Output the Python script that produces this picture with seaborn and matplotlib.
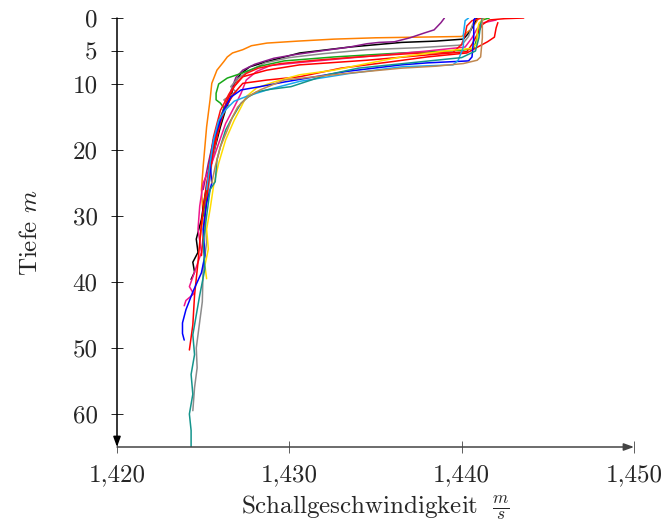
import matplotlib
matplotlib.use("Agg")
import matplotlib.pyplot as plt
import seaborn as sns
import pandas as pd

# ---------------- data ----------------
orange_s = [1441.0, 1440.8, 1440.5, 1440.0, 1437.5, 1435.0, 1432.6, 1430.5, 1428.7, 1427.8, 1427.3, 1426.7, 1426.4, 1426.2, 1425.8, 1425.5, 1425.4, 1425.2, 1425.1, 1425.0, 1424.9, 1425.0, 1424.8]
orange_d = [0.0, 0.8, 1.8, 2.8, 2.9, 3.0, 3.2, 3.5, 3.8, 4.2, 4.8, 5.3, 5.9, 6.6, 7.9, 9.9, 12.4, 16.5, 19.5, 22.5, 26.0, 30.0, 34.0]

black_s = [1440.9, 1440.7, 1440.5, 1440.1, 1438.5, 1436.5, 1433.5, 1430.6, 1428.7, 1427.7, 1427.2, 1426.8, 1426.6, 1426.3, 1426.0, 1425.7, 1425.4, 1425.1, 1424.9, 1424.6, 1424.7, 1424.4, 1424.5, 1424.3]
black_d = [0.0, 0.9, 2.0, 3.2, 3.5, 3.7, 4.4, 5.3, 6.6, 7.4, 8.4, 9.9, 12.0, 13.9, 16.5, 19.5, 23.0, 27.0, 30.5, 33.5, 35.5, 37.0, 38.5, 39.6]

purple_s = [1439.0, 1438.8, 1438.4, 1437.8, 1437.0, 1436.1, 1435.2, 1434.5, 1433.5, 1431.8, 1430.2, 1429.1, 1428.0, 1427.3, 1426.9, 1426.7, 1426.4, 1426.0, 1425.6, 1425.3, 1425.0]
purple_d = [0.0, 0.7, 1.8, 2.3, 3.0, 3.6, 3.7, 3.9, 4.4, 5.0, 5.6, 6.1, 7.0, 7.9, 9.0, 10.4, 12.5, 15.0, 18.5, 22.0, 26.0]

gray_s = [1440.8, 1440.6, 1440.4, 1440.0, 1437.5, 1434.5, 1432.0, 1430.0, 1428.6, 1427.6, 1427.0, 1426.6, 1426.9, 1426.2, 1426.5, 1426.0, 1425.8, 1425.5, 1425.3, 1425.1, 1425.2, 1425.0, 1424.95, 1424.8, 1424.7, 1424.6, 1424.65, 1424.5, 1424.4]
gray_d = [0.0, 1.2, 2.8, 4.1, 4.5, 4.8, 5.4, 6.0, 6.8, 8.1, 9.2, 10.4, 11.2, 12.4, 13.2, 15.0, 18.0, 22.0, 26.0, 30.0, 34.0, 38.0, 43.0, 46.0, 48.0, 50.0, 53.0, 56.0, 59.5]

green_s = [1441.6, 1441.2, 1441.0, 1440.9, 1440.7, 1440.0, 1436.5, 1432.6, 1429.7, 1428.3, 1427.2, 1426.4, 1425.9, 1425.75, 1425.75, 1426.0, 1426.2, 1426.0, 1425.7, 1425.4, 1425.2, 1425.0]
green_d = [0.0, 0.3, 1.2, 3.0, 4.6, 4.9, 5.3, 5.9, 6.5, 7.3, 8.4, 9.1, 10.0, 11.4, 12.4, 12.9, 13.6, 15.5, 18.5, 22.0, 26.0, 30.0]

magenta_s = [1442.0, 1441.3, 1440.9, 1440.6, 1440.2, 1438.0, 1435.5, 1433.3, 1430.8, 1428.9, 1428.1, 1427.5, 1427.2, 1426.8, 1426.3, 1425.9, 1425.5, 1425.0, 1424.8, 1424.7, 1424.9, 1424.5, 1424.2, 1424.45, 1424.0, 1423.9]
magenta_d = [0.3, 0.7, 1.6, 3.0, 4.4, 5.0, 5.6, 6.1, 6.7, 7.2, 8.1, 9.4, 11.4, 13.5, 16.0, 19.0, 22.0, 25.0, 28.5, 32.0, 35.5, 38.5, 40.7, 41.8, 42.8, 43.6]

red1_s = [1443.6, 1442.5, 1441.6, 1441.2, 1440.9, 1440.6, 1440.3, 1438.0, 1434.5, 1430.6, 1428.7, 1427.3, 1426.8, 1426.4, 1426.0, 1425.6, 1425.2, 1424.9, 1424.7, 1424.5, 1424.4, 1424.2]
red1_d = [0.0, 0.1, 0.3, 1.0, 2.5, 4.0, 5.1, 5.6, 6.4, 7.1, 7.9, 8.9, 10.4, 12.5, 15.5, 19.5, 25.0, 31.0, 37.0, 42.0, 46.5, 50.3]

red2_s = [1442.1, 1442.0, 1441.9, 1441.5, 1441.0, 1440.3, 1438.0, 1436.0, 1433.0, 1430.6, 1428.7, 1427.3, 1426.8, 1426.3, 1426.0, 1425.6, 1425.3, 1425.1, 1424.9]
red2_d = [0.7, 1.5, 2.9, 3.6, 4.3, 5.3, 5.9, 6.6, 7.6, 8.9, 9.4, 9.9, 11.4, 13.5, 16.0, 20.0, 25.0, 30.0, 36.0]

red3_s = [1441.2, 1440.6, 1440.3, 1440.2, 1440.0, 1439.5, 1437.0, 1434.0, 1431.5, 1429.5, 1428.2, 1427.5, 1427.0, 1426.5, 1426.0, 1425.6, 1425.3]
red3_d = [0.0, 0.4, 1.2, 2.5, 4.0, 5.2, 5.4, 5.9, 6.4, 6.9, 7.6, 8.4, 9.6, 11.5, 14.0, 18.0, 23.0]

yellow_s = [1441.3, 1441.0, 1440.9, 1440.9, 1440.6, 1439.0, 1436.5, 1434.5, 1432.6, 1430.6, 1429.1, 1428.1, 1427.5, 1427.2, 1426.8, 1426.3, 1425.9, 1425.6, 1425.4, 1425.2, 1425.3, 1425.1, 1425.2]
yellow_d = [0.0, 0.8, 2.0, 3.8, 4.6, 5.0, 5.9, 6.9, 7.9, 8.6, 9.7, 10.6, 11.9, 13.5, 15.5, 18.5, 22.0, 25.5, 29.0, 32.0, 35.0, 37.5, 39.5]

blue_s = [1440.8, 1440.7, 1440.7, 1440.6, 1440.4, 1438.0, 1436.5, 1433.3, 1429.7, 1428.3, 1427.2, 1426.6, 1426.2, 1426.0, 1425.6, 1425.4, 1425.5, 1425.2, 1425.0, 1425.1, 1424.9, 1424.4, 1424.0, 1423.8, 1423.8, 1423.9]
blue_d = [0.0, 0.3, 3.0, 5.9, 6.5, 6.8, 7.1, 8.1, 9.7, 10.4, 10.9, 12.0, 13.9, 15.5, 18.5, 22.0, 25.0, 28.0, 32.0, 36.0, 38.6, 41.5, 44.2, 46.2, 47.8, 48.8]

skyblue_s = [1440.4, 1440.2, 1440.1, 1440.1, 1439.8, 1439.5, 1437.5, 1436.5, 1433.5, 1430.6, 1428.7, 1427.5, 1426.8, 1426.3, 1425.9, 1425.6, 1425.4, 1425.2]
skyblue_d = [0.0, 0.4, 2.5, 4.4, 6.4, 7.1, 7.3, 7.4, 8.4, 9.6, 10.9, 11.9, 12.6, 13.9, 15.5, 18.5, 22.0, 26.0]

teal_s = [1441.2, 1441.1, 1441.0, 1440.8, 1440.0, 1437.0, 1434.0, 1432.2, 1430.1, 1428.9, 1428.1, 1427.6, 1427.2, 1426.9, 1426.6, 1426.3, 1426.0, 1425.8, 1425.7, 1425.4, 1425.2, 1425.0, 1425.1, 1424.8, 1424.6, 1424.4, 1424.5, 1424.3, 1424.4, 1424.2, 1424.3, 1424.3]
teal_d = [0.0, 1.0, 3.0, 5.0, 6.0, 6.8, 7.6, 8.6, 10.4, 10.8, 11.2, 12.0, 12.9, 14.2, 15.5, 17.0, 19.5, 21.5, 24.8, 26.0, 30.0, 34.0, 38.0, 42.0, 45.0, 48.0, 51.0, 54.0, 57.0, 60.0, 62.5, 65.0]

tan_s = [1441.3, 1441.2, 1441.2, 1441.1, 1440.9, 1440.1, 1438.5, 1436.5, 1433.3, 1429.7, 1428.3, 1427.6, 1427.0, 1426.7, 1426.4, 1426.0, 1425.7, 1425.5]
tan_d = [0.0, 0.3, 3.0, 5.9, 6.4, 6.9, 7.3, 7.6, 8.4, 9.4, 10.9, 11.9, 13.5, 15.0, 17.0, 19.5, 22.5, 25.0]

profiles = ["orange", "black", "purple", "gray", "green", "magenta", "red1", "red2",
            "red3", "yellow", "blue", "skyblue", "teal", "tan"]
profile_colors = ["#ff8000", "#000000", "#8b1a8b", "#8c8c8c", "#18a818", "#f0168c", "#ff0000",
                  "#ff0000", "#ff1010", "#ffdd00", "#0000ff", "#19a8f0", "#14948c", "#c08850"]

x_ticks = [1420, 1430, 1440, 1450]
x_ticklabels = ["1,420", "1,430", "1,440", "1,450"]
y_ticks = [0, 5, 10, 20, 30, 40, 50, 60]

series = {
    "orange": (orange_s, orange_d), "black": (black_s, black_d), "purple": (purple_s, purple_d),
    "gray": (gray_s, gray_d), "green": (green_s, green_d), "magenta": (magenta_s, magenta_d),
    "red1": (red1_s, red1_d), "red2": (red2_s, red2_d), "red3": (red3_s, red3_d),
    "yellow": (yellow_s, yellow_d), "blue": (blue_s, blue_d), "skyblue": (skyblue_s, skyblue_d),
    "teal": (teal_s, teal_d), "tan": (tan_s, tan_d),
}

rows = []
for name in profiles:
    s, d = series[name]
    for i, (si, di) in enumerate(zip(s, d)):
        rows.append({"profile": name, "order": i, "speed": si, "depth": di})
df = pd.DataFrame(rows)

# ---------------- style ----------------
sns.set_theme(style="white")
plt.rcParams["font.family"] = ["cmr10", "DejaVu Serif"]
plt.rcParams["mathtext.fontset"] = "cm"
plt.rcParams["axes.unicode_minus"] = False
plt.rcParams["axes.formatter.use_mathtext"] = True

fig = plt.figure(figsize=(6.67, 5.24), dpi=100)
ax = fig.add_axes([117 / 667, 1 - 447 / 524, 517 / 667, 429 / 524])

sns.lineplot(data=df, x="speed", y="depth", hue="profile", palette=dict(zip(profiles, profile_colors)),
             hue_order=profiles, sort=False, estimator=None, units="profile", legend=False,
             linewidth=1.1, ax=ax)

ax.set_xlim(1420, 1450)
ax.set_ylim(65, 0)
for sp in ax.spines.values():
    sp.set_visible(False)

ax.set_xticks(x_ticks)
ax.set_xticklabels(x_ticklabels)
ax.set_yticks(y_ticks)
ax.set_yticklabels([str(v) for v in y_ticks])
ax.tick_params(axis="both", which="major", direction="inout", length=8, width=0.6,
               color="#444444", labelsize=18, bottom=True, left=True, pad=8)
ax.tick_params(axis="y", pad=10, color="black")

arrow_kw = dict(arrowstyle="-|>,head_length=0.55,head_width=0.2", lw=1.1,
                shrinkA=0, shrinkB=0, mutation_scale=11)
ax.annotate("", xy=(1450, 65), xytext=(1420, 65), xycoords="data",
            arrowprops=dict(color="#444444", **arrow_kw), annotation_clip=False)
ax.annotate("", xy=(1420, 65), xytext=(1420, 0), xycoords="data",
            arrowprops=dict(color="black", **arrow_kw), annotation_clip=False)

ax.set_xlabel(r"Schallgeschwindigkeit $\;\frac{m}{s}$", fontsize=18)
ax.set_ylabel(r"Tiefe $m$", fontsize=18)
ax.xaxis.set_label_coords(0.5, -0.108)
ax.yaxis.set_label_coords(-0.145, 0.5)

fig.savefig("out.png", dpi=100)
